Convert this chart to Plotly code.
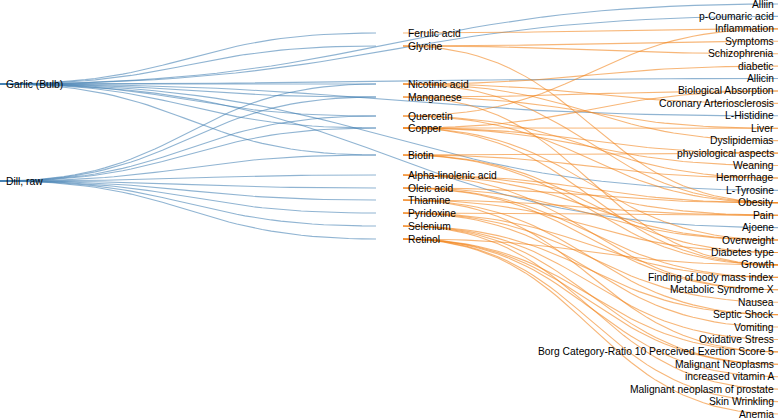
import numpy as np
import plotly.graph_objects as go

# nodes, one list per column
foods = ["Garlic (Bulb)", "Dill, raw"]
compounds = ["Ferulic acid", "Glycine", "Nicotinic acid", "Manganese", "Quercetin",
             "Copper", "Biotin", "Alpha-linolenic acid", "Oleic acid", "Thiamine",
             "Pyridoxine", "Selenium", "Retinol"]
outcomes = ["Alliin", "p-Coumaric acid", "Inflammation", "Symptoms", "Schizophrenia",
            "diabetic", "Allicin", "Biological Absorption", "Coronary Arteriosclerosis",
            "L-Histidine", "Liver", "Dyslipidemias", "physiological aspects", "Weaning",
            "Hemorrhage", "L-Tyrosine", "Obesity", "Pain", "Ajoene", "Overweight",
            "Diabetes type", "Growth", "Finding of body mass index", "Metabolic Syndrome X",
            "Nausea", "Septic Shock", "Vomiting", "Oxidative Stress",
            "Borg Category-Ratio 10 Perceived Exertion Score 5", "Malignant Neoplasms",
            "increased vitamin A", "Malignant neoplasm of prostate", "Skin Wrinkling", "Anemia"]

# food -> compound links (blue)
food_src = ["Garlic (Bulb)"] * 13 + ["Dill, raw"] * 11
food_dst = ["Alliin", "p-Coumaric acid", "Ferulic acid", "Glycine", "Allicin",
            "Nicotinic acid", "Manganese", "L-Histidine", "Quercetin", "Copper",
            "Biotin", "L-Tyrosine", "Ajoene",
            "Nicotinic acid", "Manganese", "Quercetin", "Copper", "Biotin",
            "Alpha-linolenic acid", "Oleic acid", "Thiamine", "Pyridoxine",
            "Selenium", "Retinol"]

# compound -> outcome links (orange)
cmp_links = {
    "Ferulic acid": ["Inflammation"],
    "Glycine": ["Symptoms", "Schizophrenia", "Obesity"],
    "Nicotinic acid": ["diabetic", "Coronary Arteriosclerosis", "Dyslipidemias", "Obesity"],
    "Manganese": ["Biological Absorption", "Liver", "Growth"],
    "Quercetin": ["Inflammation", "Hemorrhage", "Obesity"],
    "Copper": ["Biological Absorption", "Liver", "physiological aspects", "Weaning",
               "Growth", "Overweight"],
    "Biotin": ["Hemorrhage", "Diabetes type", "Growth", "physiological aspects"],
    "Alpha-linolenic acid": ["Obesity", "Overweight", "Metabolic Syndrome X", "Pain"],
    "Oleic acid": ["Obesity", "Overweight", "Finding of body mass index",
                   "Metabolic Syndrome X"],
    "Thiamine": ["Diabetes type", "Septic Shock", "Pain", "Borg Category-Ratio 10 Perceived Exertion Score 5"],
    "Pyridoxine": ["Pain", "Nausea", "Vomiting", "Finding of body mass index"],
    "Selenium": ["Oxidative Stress", "Septic Shock", "Malignant Neoplasms",
                 "Malignant neoplasm of prostate"],
    "Retinol": ["Growth", "Borg Category-Ratio 10 Perceived Exertion Score 5",
                "Malignant Neoplasms", "increased vitamin A", "Skin Wrinkling", "Anemia"],
}

# layout (pixel-like units)
W, H = 778, 419
X_LEFT, X_MID_IN, X_MID_OUT, X_RIGHT = 0, 376, 403, W
left_y = {"Garlic (Bulb)": 84, "Dill, raw": 181}
mid_rows = [33, 46, 84, 97, 116, 128, 155, 175, 188, 200, 213, 226, 239]
mid_y = dict(zip(compounds, mid_rows))
right_y = {name: 4 + i * (410 / (len(outcomes) - 1)) for i, name in enumerate(outcomes)}


def link_path(x0, y0, x1, y1, n=40):
    t = np.linspace(0, 1, n)
    xm = (x0 + x1) / 2
    xs = (1 - t) ** 3 * x0 + 3 * (1 - t) ** 2 * t * xm + 3 * (1 - t) * t ** 2 * xm + t ** 3 * x1
    ys = (1 - t) ** 3 * y0 + 3 * (1 - t) ** 2 * t * y0 + 3 * (1 - t) * t ** 2 * y1 + t ** 3 * y1
    return list(xs) + [None], list(ys) + [None]


bx, by = [], []
for s, d in zip(food_src, food_dst):
    if d in mid_y:
        xs, ys = link_path(X_LEFT, left_y[s], X_MID_IN, mid_y[d])
    else:
        xs, ys = link_path(X_LEFT, left_y[s], X_RIGHT, right_y[d])
    bx += xs
    by += ys

ox, oy = [], []
for s, targets in cmp_links.items():
    for d in targets:
        xs, ys = link_path(X_MID_OUT, mid_y[s], X_RIGHT, right_y[d])
        ox += xs
        oy += ys

fig = go.Figure()
fig.add_trace(go.Scatter(x=bx, y=by, mode="lines", hoverinfo="skip",
                         line=dict(color="rgba(70,130,180,0.6)", width=1.1)))
fig.add_trace(go.Scatter(x=ox, y=oy, mode="lines", hoverinfo="skip",
                         line=dict(color="rgba(242,133,30,0.6)", width=1.1)))

font = dict(family="Liberation Sans, Arial, sans-serif", size=10.3, color="#000")
for name in foods:
    fig.add_annotation(x=5, y=left_y[name], text=name, xanchor="left", yanchor="middle",
                       showarrow=False, font=font, borderpad=0)
for name in compounds:
    fig.add_annotation(x=407, y=mid_y[name], text=name, xanchor="left", yanchor="middle",
                       showarrow=False, font=font, borderpad=0)
for name in outcomes:
    fig.add_annotation(x=775, y=right_y[name], text=name, xanchor="right", yanchor="middle",
                       showarrow=False, font=font, borderpad=0)

fig.update_xaxes(range=[0, W], visible=False)
fig.update_yaxes(range=[H, 0], visible=False)
fig.update_layout(width=W, height=H, margin=dict(l=0, r=0, t=0, b=0),
                  plot_bgcolor="white", paper_bgcolor="white", showlegend=False)
fig.write_html("out.html", config={"displayModeBar": False},
               post_script="document.body.style.margin='0px';")
